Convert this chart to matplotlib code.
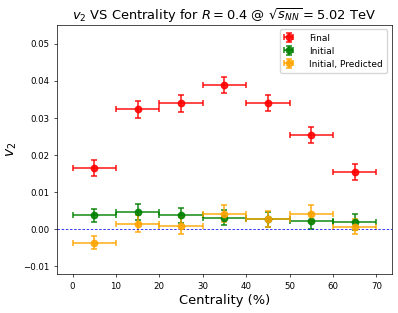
import numpy as np
import matplotlib
matplotlib.use("Agg")
import matplotlib.pyplot as plt

# centrality bins (%)
centrality = [5, 15, 25, 35, 45, 55, 65]
bin_half = [5, 5, 5, 5, 5, 5, 5]

# v2 values
v2_final = [0.0165, 0.0323, 0.0340, 0.0389, 0.0341, 0.0254, 0.0155]
err_final = [0.0021, 0.0024, 0.0023, 0.0022, 0.0022, 0.0022, 0.0021]

v2_initial = [0.0037, 0.0047, 0.0038, 0.0031, 0.0027, 0.0022, 0.0019]
err_initial = [0.0017, 0.0021, 0.0020, 0.0020, 0.0020, 0.0021, 0.0021]

v2_pred = [-0.0036, 0.0015, 0.0010, 0.0042, 0.0028, 0.0042, 0.0007]
err_pred = [0.0018, 0.0022, 0.0022, 0.0022, 0.0022, 0.0022, 0.0021]

s = 0.622  # scale from a 100 dpi canvas to the small output

fig = plt.figure(figsize=(3.98, 3.13), dpi=100)
ax = fig.add_axes([0.144, 0.1256, 0.840, 0.7946])

opts = dict(fmt="o", markersize=4.6, capsize=2.4, elinewidth=1.2,
            capthick=1.2, alpha=0.85)
ax.errorbar(centrality, v2_final, xerr=bin_half, yerr=err_final,
            color="red", label="Final", **opts)
ax.errorbar(centrality, v2_initial, xerr=bin_half, yerr=err_initial,
            color="green", label="Initial", **opts)
ax.errorbar(centrality, v2_pred, xerr=bin_half, yerr=err_pred,
            color="orange", label="Initial, Predicted", **opts)

ax.axhline(0, color="blue", linestyle="--", linewidth=0.6, alpha=0.9,
           dashes=(3, 2))

ax.set_xlim(-3.5, 73.5)
ax.set_ylim(-0.012, 0.0551)
ax.set_yticks([-0.01, 0.0, 0.01, 0.02, 0.03, 0.04, 0.05])
ax.tick_params(labelsize=10 * s, length=3.5 * s, width=0.8 * s)
for sp in ax.spines.values():
    sp.set_linewidth(0.8 * s)

ax.set_xlabel("Centrality (%)", fontsize=15 * s, labelpad=4 * s)
ax.set_ylabel("$v_2$", fontsize=16 * s, labelpad=5 * s)
ax.set_title(r"$v_2$ VS Centrality for $R = 0.4$ @ $\sqrt{s_{NN}} = 5.02$ TeV",
             fontsize=15 * s, pad=6 * s)
ax.legend(loc="upper right", fontsize=10.4 * s, borderpad=0.45,
          handlelength=1.0, handletextpad=1.8, labelspacing=0.45)

fig.savefig("out.png", dpi=100)
